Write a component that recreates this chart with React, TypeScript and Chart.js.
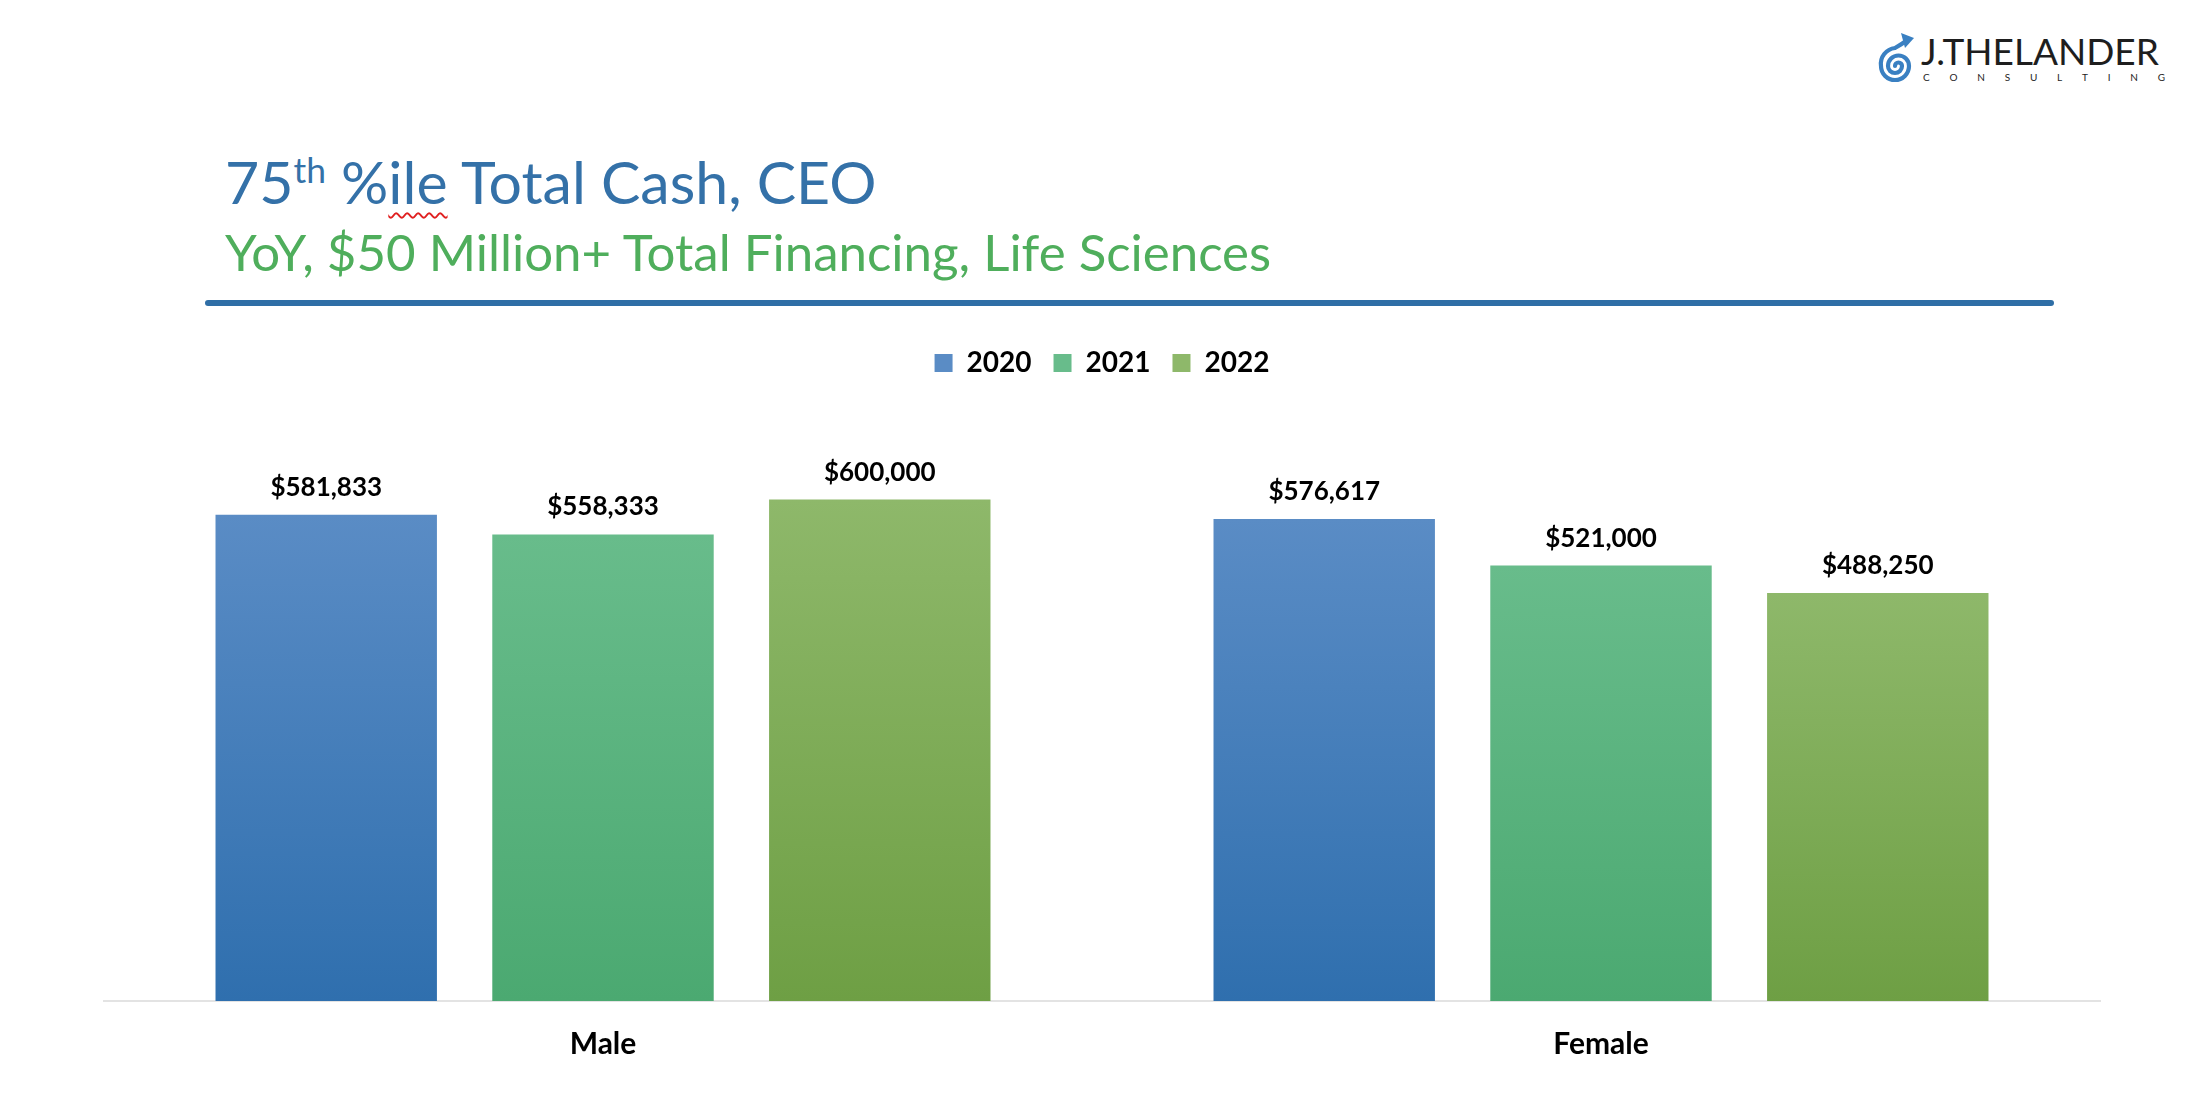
import React, { useEffect, useRef } from 'react';
import { Chart, registerables } from 'chart.js';

Chart.register(...registerables);

// ---- data ----
const categories = ['Male', 'Female'];
const seriesLabels = ['2020', '2021', '2022'];
const values2020 = [581833, 576617];
const values2021 = [558333, 521000];
const values2022 = [600000, 488250];

// ---- styles ----
const colorsTop = ['#5A8CC5', '#68BC8B', '#8EB86A'];
const colorsBottom = ['#2F6FAE', '#4BA971', '#6E9F44'];
const colorsMid = ['#4A80BD', '#59B27E', '#7EAC57'];
const FONT = 'Lato, "Open Sans", sans-serif';

function gradientFor(i: number) {
  return (ctx: any) => {
    const chart = ctx.chart;
    if (!chart.chartArea || ctx.type !== 'data' || !chart.scales.y) return colorsMid[i];
    const yScale = chart.scales.y;
    const top = yScale.getPixelForValue(ctx.raw as number);
    const bottom = yScale.getPixelForValue(0);
    if (!isFinite(top) || !isFinite(bottom) || top === bottom) return colorsMid[i];
    const g = chart.ctx.createLinearGradient(0, top, 0, bottom);
    g.addColorStop(0, colorsTop[i]);
    g.addColorStop(1, colorsBottom[i]);
    return g;
  };
}

const dataLabelPlugin = {
  id: 'dataLabels',
  afterDatasetsDraw(chart: any) {
    const c = chart.ctx;
    c.save();
    c.font = `bold 26px ${FONT}`;
    c.fillStyle = '#000000';
    c.textAlign = 'center';
    c.textBaseline = 'alphabetic';
    chart.data.datasets.forEach((ds: any, di: number) => {
      const meta = chart.getDatasetMeta(di);
      meta.data.forEach((el: any, idx: number) => {
        const v = ds.data[idx] as number;
        c.fillText('$' + v.toLocaleString('en-US'), el.x, el.y - 19);
      });
    });
    c.restore();
  },
};

const legendSpacingPlugin = {
  id: 'legendSpacing',
  beforeInit(chart: any) {
    const legend = chart.legend;
    if (!legend) return;
    const origFit = legend.fit;
    legend.fit = function () {
      origFit.bind(legend)();
      this.height += 29;
    };
  },
};

function Logo() {
  return (
    <div style={{ position: 'absolute', left: 1872, top: 26, width: 300, height: 64 }}>
      <svg width={46} height={60} style={{ position: 'absolute', left: 1, top: 0 }} viewBox="0 0 46 60">
        <path
          d="M 22 40 A 3.5 3.5 0 1 1 29 40 A 7 7 0 1 1 15 40 A 10.5 10.5 0 1 1 36 40 A 14 14 0 1 1 8 40 A 16 16 0 0 1 22 22 Q 29 18 33 15"
          fill="none"
          stroke="#3A80C2"
          strokeWidth={4.2}
          strokeLinecap="round"
        />
        <path d="M 28 7 L 41 12 L 32 22 Z" fill="#3A80C2" />
      </svg>
      <div
        style={{
          position: 'absolute',
          left: 49,
          top: 6,
          fontFamily: FONT,
          fontSize: 37,
          lineHeight: 1,
          color: '#1E1E1E',
          fontWeight: 400,
          whiteSpace: 'nowrap',
        }}
      >
        J.THELANDER
      </div>
      <div
        style={{
          position: 'absolute',
          left: 51,
          top: 46,
          width: 242,
          display: 'flex',
          justifyContent: 'space-between',
          fontFamily: FONT,
          fontSize: 10,
          lineHeight: 1,
          color: '#1E1E1E',
        }}
      >
        {'CONSULTING'.split('').map((ch, i) => (
          <span key={i}>{ch}</span>
        ))}
      </div>
    </div>
  );
}

export default function App() {
  const canvasRef = useRef<HTMLCanvasElement | null>(null);

  useEffect(() => {
    if (!canvasRef.current) return;
    const seriesValues = [values2020, values2021, values2022];
    const chart = new Chart(canvasRef.current, {
      type: 'bar',
      data: {
        labels: categories,
        datasets: seriesLabels.map((label, i) => ({
          label,
          data: seriesValues[i],
          backgroundColor: gradientFor(i),
          borderWidth: 0,
          categoryPercentage: 0.832,
          barPercentage: 0.8,
        })),
      },
      options: {
        animation: false,
        responsive: false,
        maintainAspectRatio: false,
        devicePixelRatio: 1,
        layout: { padding: { left: 104, right: 108, top: 7, bottom: 25 } },
        plugins: {
          legend: {
            display: true,
            position: 'top',
            align: 'center',
            labels: {
              boxWidth: 18,
              boxHeight: 18,
              padding: 22,
              color: '#000000',
              font: { family: FONT, size: 28, weight: 'bold' },
            },
          },
          tooltip: { enabled: false },
          title: { display: false },
        },
        scales: {
          x: {
            grid: { display: false, drawTicks: false },
            border: { display: true, color: '#E3E3E3', width: 2 },
            ticks: {
              color: '#000000',
              padding: 25,
              font: { family: FONT, size: 30, weight: 'bold' },
            },
          },
          y: {
            display: false,
            min: 0,
            max: 700000,
          },
        },
      },
      plugins: [legendSpacingPlugin, dataLabelPlugin],
    });
    return () => chart.destroy();
  }, []);

  return (
    <div
      style={{
        position: 'fixed',
        left: 0,
        top: 0,
        width: 2208,
        height: 1112,
        background: '#ffffff',
        overflow: 'hidden',
      }}
    >
      <Logo />
      <div
        style={{
          position: 'absolute',
          left: 225,
          top: 152,
          fontFamily: FONT,
          fontSize: 59,
          lineHeight: 1,
          color: '#3471A8',
          whiteSpace: 'nowrap',
        }}
      >
        75
        <span style={{ fontSize: '0.6em', position: 'relative', top: -21 }}>th</span>{' '}
        %
        <span
          style={{
            textDecorationLine: 'underline',
            textDecorationStyle: 'wavy',
            textDecorationColor: '#E02020',
            textDecorationThickness: '1.5px',
            textUnderlineOffset: '8px',
          }}
        >
          ile
        </span>{' '}
        Total Cash, CEO
      </div>
      <div
        style={{
          position: 'absolute',
          left: 225,
          top: 226,
          fontFamily: FONT,
          fontSize: 51,
          lineHeight: 1,
          color: '#4FAE5C',
          whiteSpace: 'nowrap',
        }}
      >
        YoY, $50 Million+ Total Financing, Life Sciences
      </div>
      <div
        style={{
          position: 'absolute',
          left: 205,
          top: 300,
          width: 1849,
          height: 6,
          background: '#2F6EA6',
          borderRadius: 3,
        }}
      />
      <canvas
        ref={canvasRef}
        width={2208}
        height={792}
        style={{ position: 'absolute', left: 0, top: 320, width: 2208, height: 792 }}
      />
    </div>
  );
}
